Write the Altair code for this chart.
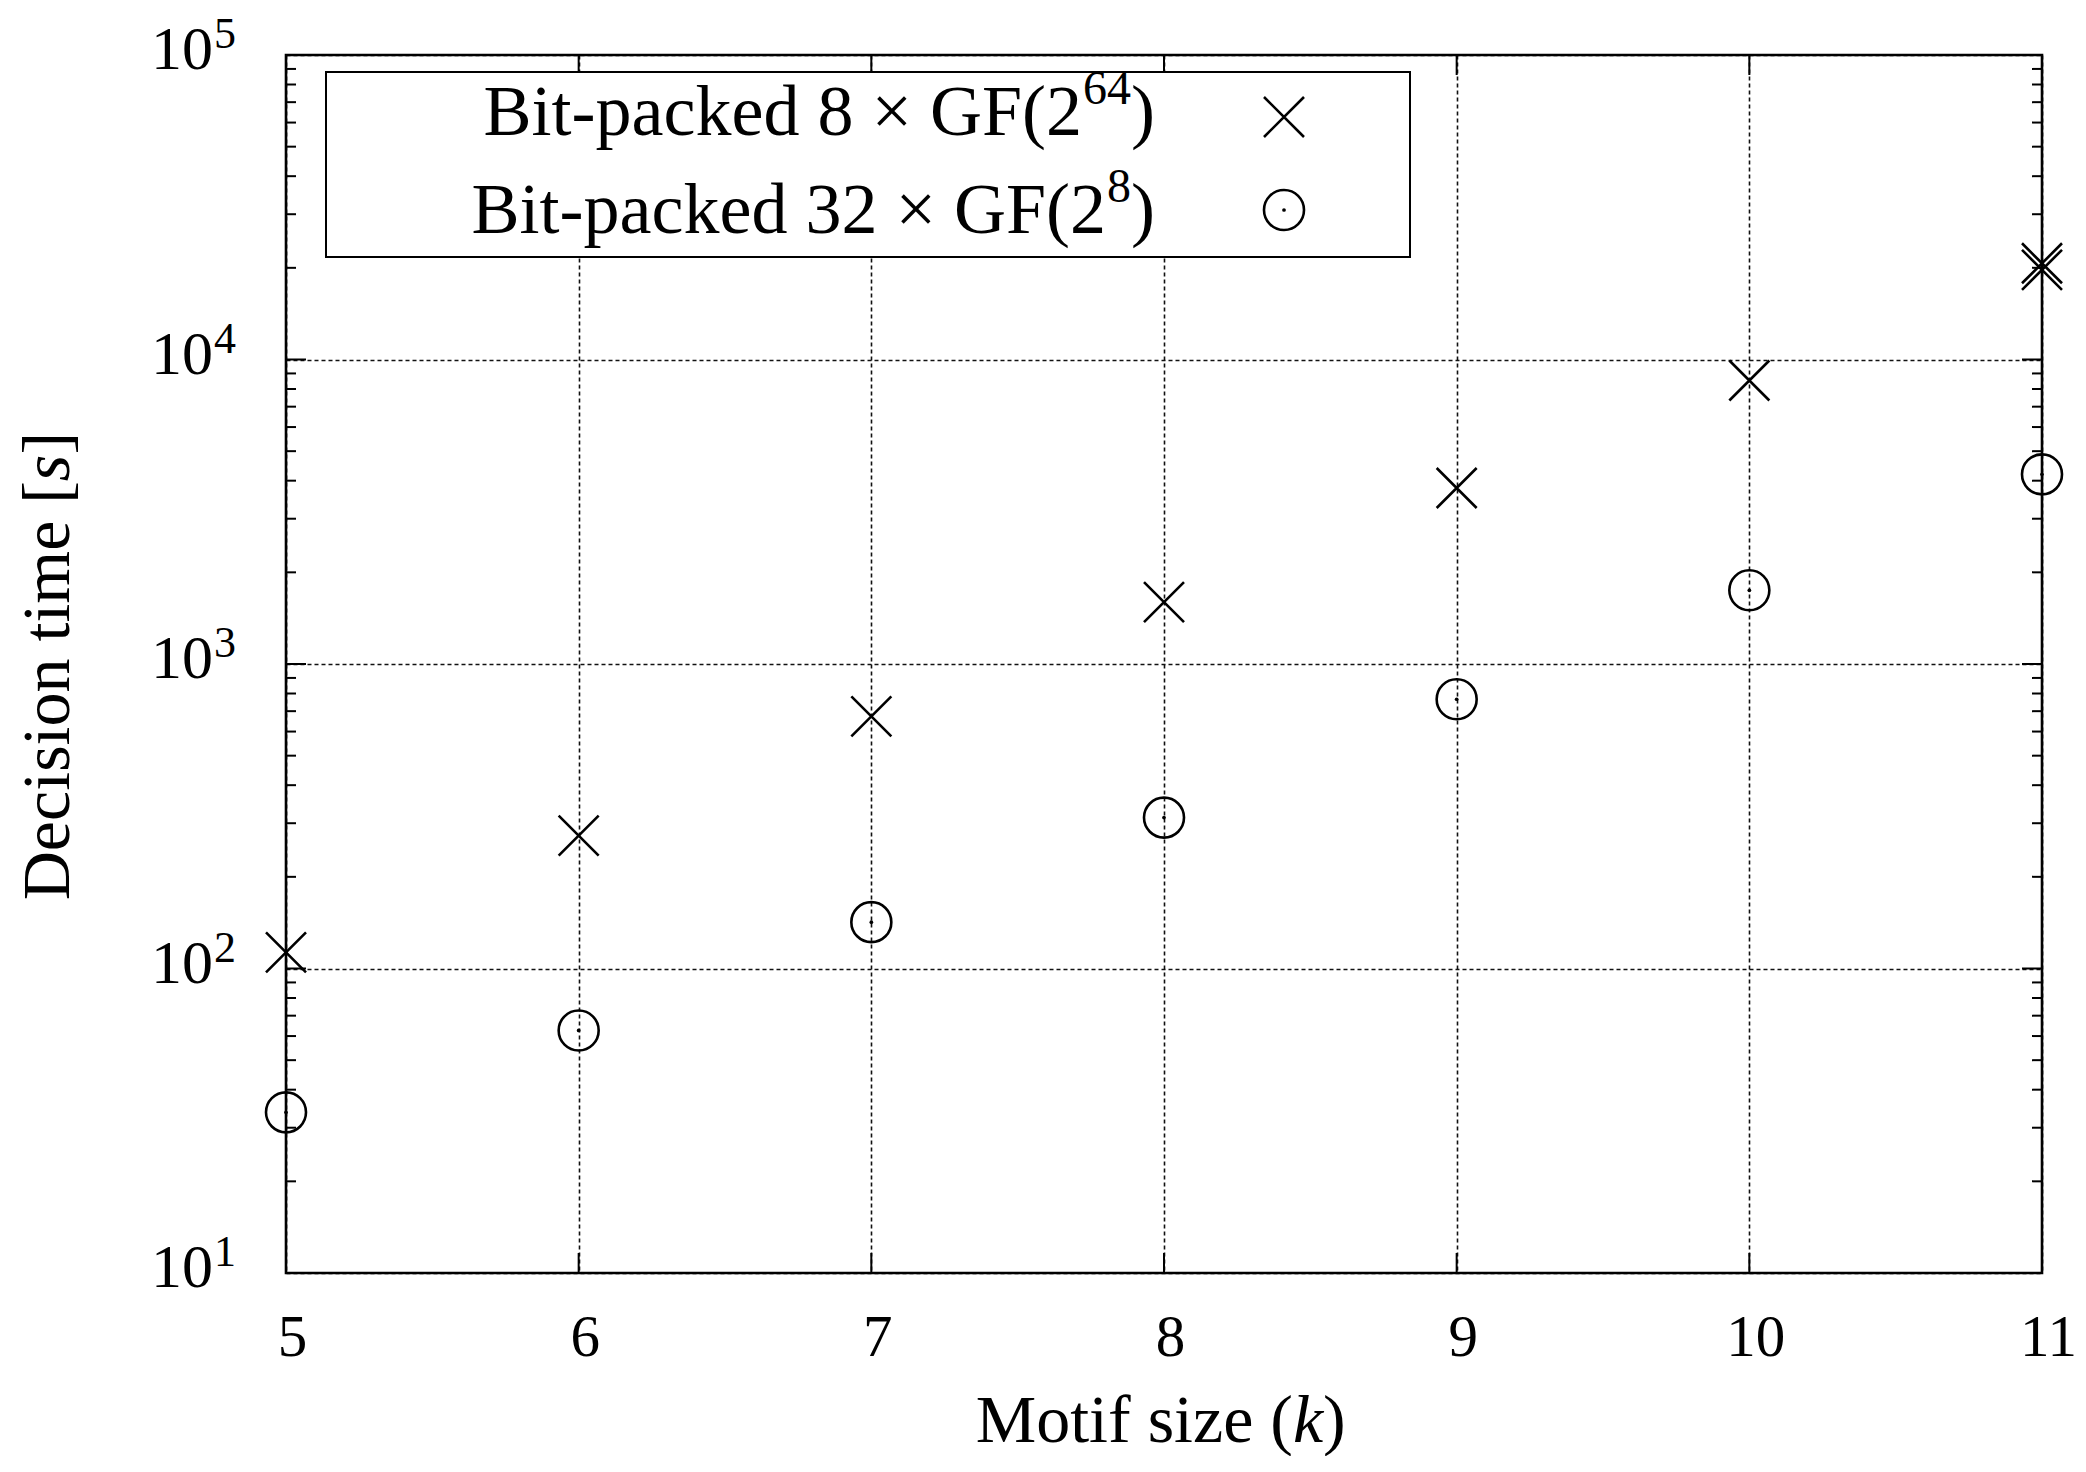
import altair as alt
import pandas as pd

# ---------------- data ----------------
k_values = [5, 6, 7, 8, 9, 10, 11]
time_8x_gf2_64 = [113, 273, 673, 1596, 3785, 8530, 20700]
repeat_k = [11]
repeat_time_8x_gf2_64 = [19700]
time_32x_gf2_8 = [33.7, 62.6, 142, 313, 766, 1746, 4196]

x_ticks = [5, 6, 7, 8, 9, 10, 11]
y_major = [10, 100, 1000, 10000, 100000]
y_base = ["10", "10", "10", "10", "10"]
y_exponents = ["1", "2", "3", "4", "5"]
y_minor = [20, 30, 40, 50, 60, 70, 80, 90,
           200, 300, 400, 500, 600, 700, 800, 900,
           2000, 3000, 4000, 5000, 6000, 7000, 8000, 9000,
           20000, 30000, 40000, 50000, 60000, 70000, 80000, 90000]

legend_main = ["Bit-packed 8 × GF(2", "Bit-packed 32 × GF(2"]
legend_sup = ["64", "8"]
x_title = ["Motif size (", "k", ")"]
y_title = ["Decision time [", "s", "]"]

# ---------------- styling ----------------
W, H = 1756, 1218
SERIF = "Liberation Serif"
XPATH = "M-1,-1L1,1M-1,1L1,-1"
GRID = dict(gridDash=[4, 3], gridColor="#111111", gridWidth=1.6)

xs = alt.Scale(domain=[5, 11], nice=False, zero=False)
ys = alt.Scale(type="log", domain=[10, 100000], nice=False)

xenc = alt.X("k:Q", scale=xs, axis=alt.Axis(
    values=x_ticks, grid=True, ticks=False, tickSize=0, domain=False,
    labelFont=SERIF, labelFontSize=59, labelColor="black",
    labelPadding=82, labelBaseline="alphabetic", labelOffset=6,
    labelFlush=False, labelOverlap=False, title=None, **GRID))
yenc = alt.Y("t:Q", scale=ys, axis=alt.Axis(
    values=y_major, grid=True, ticks=False, tickSize=0, domain=False,
    labels=False, title=None, **GRID))

cross_df = pd.DataFrame({"k": k_values + repeat_k,
                         "t": time_8x_gf2_64 + repeat_time_8x_gf2_64})
circ_df = pd.DataFrame({"k": k_values, "t": time_32x_gf2_8})
xt_df = pd.DataFrame({"k": x_ticks})
ymaj_df = pd.DataFrame({"t": y_major, "base": y_base, "e": y_exponents})
ymin_df = pd.DataFrame({"t": y_minor})
one = pd.DataFrame({"a": [0]})

crosses = alt.Chart(cross_df).mark_point(
    shape=XPATH, size=1600, filled=False, stroke="black", strokeWidth=2.6, opacity=1
).encode(x=xenc, y=yenc)

circles = alt.Chart(circ_df).mark_point(
    shape="circle", size=1600, filled=False, stroke="black", strokeWidth=2.6, opacity=1
).encode(x=xenc, y=yenc)
circ_dots = alt.Chart(circ_df).mark_point(
    shape="circle", size=14, filled=True, color="black", opacity=1
).encode(x=xenc, y=yenc)

tk = dict(color="black", strokeWidth=2)
x_bot = alt.Chart(xt_df).mark_rule(**tk).encode(x=xenc, y=alt.value(H), y2=alt.value(H - 20))
x_top = alt.Chart(xt_df).mark_rule(**tk).encode(x=xenc, y=alt.value(0), y2=alt.value(20))
y_left = alt.Chart(ymaj_df).mark_rule(**tk).encode(y=yenc, x=alt.value(0), x2=alt.value(20))
y_right = alt.Chart(ymaj_df).mark_rule(**tk).encode(y=yenc, x=alt.value(W - 20), x2=alt.value(W))
ym_left = alt.Chart(ymin_df).mark_rule(**tk).encode(y=yenc, x=alt.value(0), x2=alt.value(10))
ym_right = alt.Chart(ymin_df).mark_rule(**tk).encode(y=yenc, x=alt.value(W - 10), x2=alt.value(W))

ylab = alt.Chart(ymaj_df).mark_text(
    align="right", baseline="alphabetic", dy=14, font=SERIF, fontSize=62, color="black"
).encode(y=yenc, x=alt.value(-73), text="base:N")
ysup = alt.Chart(ymaj_df).mark_text(
    align="left", baseline="alphabetic", dy=-7, font=SERIF, fontSize=44, color="black"
).encode(y=yenc, x=alt.value(-72), text="e:N")

# axis titles (pieces so that the variable can be italic)
def txt(s, x, y, align, size=68, style="normal", angle=0):
    kw = dict(align=align, baseline="alphabetic", font=SERIF, fontSize=size,
              fontStyle=style, color="black")
    if angle:
        kw["angle"] = angle
    return alt.Chart(one).mark_text(**kw).encode(
        x=alt.value(x), y=alt.value(y), text=alt.value(s))

xt1 = txt(x_title[0], 1007, 1387, "right")
xt2 = txt(x_title[1], 1022, 1387, "center", style="italic")
xt3 = txt(x_title[2], 1037, 1387, "left")
yt1 = txt(y_title[0], -217, 426, "right", angle=270)
yt2 = txt(y_title[1], -217, 413, "center", style="italic", angle=270)
yt3 = txt(y_title[2], -217, 399.5, "left", angle=270)

# legend
leg_box = alt.Chart(one).mark_rect(fill="white", stroke="black", strokeWidth=2).encode(
    x=alt.value(40), x2=alt.value(1124), y=alt.value(17), y2=alt.value(202))
l1 = txt(legend_main[0], 796, 80, "right", size=72)
l1s = txt(legend_sup[0], 797, 49, "left", size=48)
l1p = txt(")", 845, 80, "left", size=72)
l2 = txt(legend_main[1], 820, 178, "right", size=72)
l2s = txt(legend_sup[1], 821, 147, "left", size=48)
l2p = txt(")", 845, 178, "left", size=72)
lsym1 = alt.Chart(one).mark_point(
    shape=XPATH, size=1600, filled=False, stroke="black", strokeWidth=2.6, opacity=1
).encode(x=alt.value(998), y=alt.value(62))
lsym2 = alt.Chart(one).mark_point(
    shape="circle", size=1600, filled=False, stroke="black", strokeWidth=2.6, opacity=1
).encode(x=alt.value(998), y=alt.value(155))
lsym2d = alt.Chart(one).mark_point(
    shape="circle", size=14, filled=True, color="black", opacity=1
).encode(x=alt.value(998), y=alt.value(155))

frame = alt.Chart(one).mark_rect(fillOpacity=0, stroke="black", strokeWidth=2.6).encode(
    x=alt.value(0), x2=alt.value(W), y=alt.value(0), y2=alt.value(H))

chart = alt.layer(
    crosses, circles, circ_dots,
    x_bot, x_top, y_left, y_right, ym_left, ym_right,
    ylab, ysup, xt1, xt2, xt3, yt1, yt2, yt3,
    leg_box, l1, l1s, l1p, l2, l2s, l2p, lsym1, lsym2, lsym2d,
    frame,
).properties(
    width=W, height=H,
    autosize=alt.AutoSizeParams(type="none"),
    padding={"left": 278, "top": 47, "right": 36, "bottom": 183},
    background="white",
).configure_view(strokeWidth=0)

chart.save("out.html", embed_options={"renderer": "svg", "actions": False})
